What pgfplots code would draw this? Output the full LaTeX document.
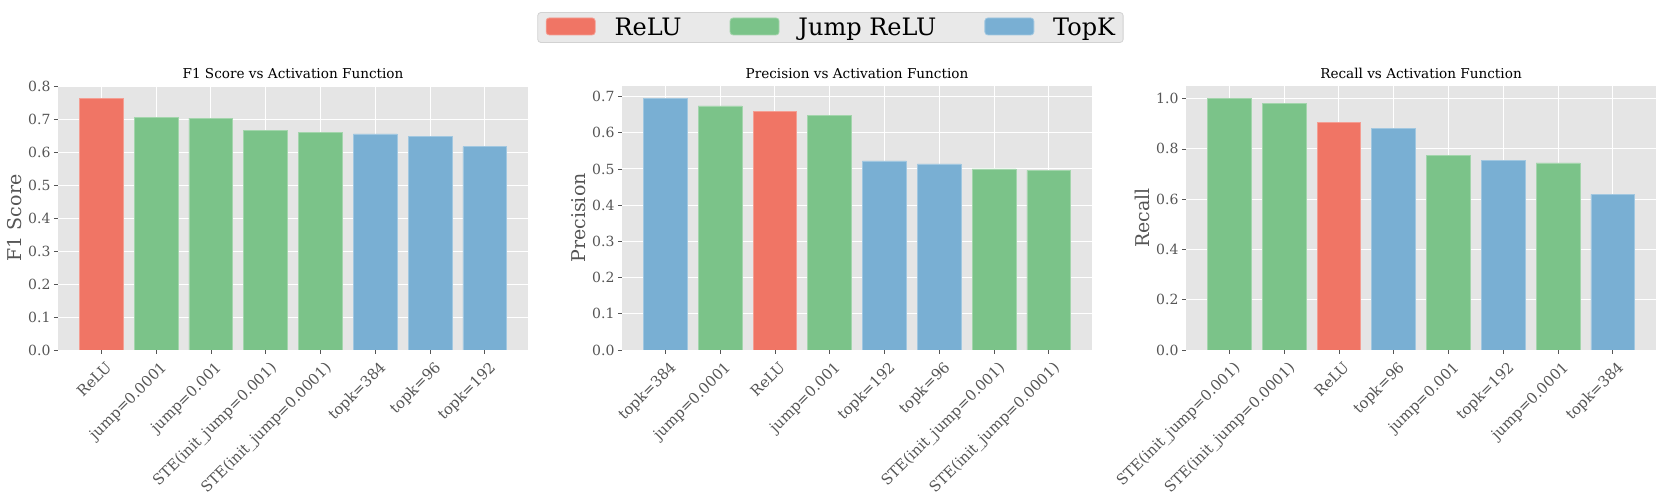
\documentclass[border=0pt]{standalone}
\usepackage{fontspec}
\setmainfont{DejaVu Serif}
\usepackage{pgfplots}
\pgfplotsset{compat=1.18}

\definecolor{relu}{RGB}{240,117,101}
\definecolor{jump}{RGB}{123,195,137}
\definecolor{topk}{RGB}{121,175,211}
\definecolor{panel}{RGB}{229,229,229}
\definecolor{tickc}{RGB}{85,85,85}
\definecolor{legbg}{RGB}{233,233,233}
\definecolor{legedge}{RGB}{210,210,210}

\newcommand{\fs}[1]{\fontsize{#1pt}{#1pt}\selectfont}

\pgfplotsset{
  panelstyle/.style={
    scale only axis, width=470pt, height=264pt, anchor=south west,
    xmin=-0.79, xmax=7.79, ymin=0,
    xtick={0,...,7},
    axis background/.style={fill=panel},
    axis line style={draw=none},
    grid=major, grid style={white, line width=0.9pt},
    tick align=outside, tick pos=left, major tick length=4pt,
    tick style={tickc, line width=0.6pt},
    /pgf/number format/assume math mode=true,
    /pgf/number format/.cd, fixed, fixed zerofill, precision=1, /pgfplots/.cd,
    yticklabel style={font=\fs{14}, text=tickc},
    xticklabel style={font=\fs{14.8}, text=tickc, rotate=45, anchor=north east,
      inner sep=0pt, yshift=-7pt, xshift=-2pt},
    ylabel style={font=\fs{19}, text=tickc},
    title style={font=\fs{13.6}, yshift=-2pt},
  },
  barR/.style={ybar, bar width=0.8, bar shift=0pt, fill=relu, draw=relu!70!white, line width=0.6pt},
  barJ/.style={ybar, bar width=0.8, bar shift=0pt, fill=jump, draw=jump!70!white, line width=0.6pt},
  barT/.style={ybar, bar width=0.8, bar shift=0pt, fill=topk, draw=topk!70!white, line width=0.6pt},
}

\begin{document}
\begin{tikzpicture}
\path[use as bounding box] (0,0) rectangle (1661pt,494pt);

% F1
\begin{axis}[panelstyle, at={(58pt,144pt)},
  ymax=0.80, ytick={0,0.1,...,0.8},
  ylabel={F1 Score}, title={F1 Score vs Activation Function},
  xticklabels={{ReLU},{jump=0.0001},{jump=0.001},{STE(init\_jump=0.001)},{STE(init\_jump=0.0001)},{topk=384},{topk=96},{topk=192}}]
  \addplot[barR] coordinates {(0,0.762)};
  \addplot[barJ] coordinates {(1,0.706) (2,0.703) (3,0.666) (4,0.660)};
  \addplot[barT] coordinates {(5,0.655) (6,0.648) (7,0.616)};
\end{axis}

% Precision
\begin{axis}[panelstyle, at={(622pt,144pt)},
  ymax=0.729, ytick={0,0.1,...,0.7},
  ylabel={Precision}, title={Precision vs Activation Function},
  xticklabels={{topk=384},{jump=0.0001},{ReLU},{jump=0.001},{topk=192},{topk=96},{STE(init\_jump=0.001)},{STE(init\_jump=0.0001)}},
  legend columns=3,
  legend image code/.code={\fill[#1] (0pt,-7pt) rectangle (49pt,10pt);},
  legend style={at={(rel axis cs:0.4435,1.2216)}, anchor=center,
    fill=legbg, draw=legedge, rounded corners=3pt, line width=0.8pt,
    font=\fs{24}, inner xsep=8pt, inner ysep=5pt,
    nodes={inner sep=0pt},
    /tikz/every odd column/.append style={column sep=19pt},
    /tikz/every even column/.append style={column sep=48pt}},
  ]
  \addlegendimage{fill=relu, draw=relu!70!white}
  \addlegendentry{ReLU}
  \addlegendimage{fill=jump, draw=jump!70!white}
  \addlegendentry{Jump ReLU}
  \addlegendimage{fill=topk, draw=topk!70!white}
  \addlegendentry{TopK}
  \addplot[barT, forget plot] coordinates {(0,0.694) (4,0.522) (5,0.514)};
  \addplot[barJ, forget plot] coordinates {(1,0.674) (3,0.648) (6,0.500) (7,0.496)};
  \addplot[barR, forget plot] coordinates {(2,0.659)};
\end{axis}

% Recall
\begin{axis}[panelstyle, at={(1186pt,144pt)},
  ymax=1.05, ytick={0,0.2,...,1.0},
  ylabel={Recall}, title={Recall vs Activation Function},
  xticklabels={{STE(init\_jump=0.001)},{STE(init\_jump=0.0001)},{ReLU},{topk=96},{jump=0.001},{topk=192},{jump=0.0001},{topk=384}}]
  \addplot[barJ] coordinates {(0,1.000) (1,0.981) (4,0.774) (6,0.744)};
  \addplot[barR] coordinates {(2,0.905)};
  \addplot[barT] coordinates {(3,0.882) (5,0.755) (7,0.619)};
\end{axis}
\end{tikzpicture}
\end{document}
